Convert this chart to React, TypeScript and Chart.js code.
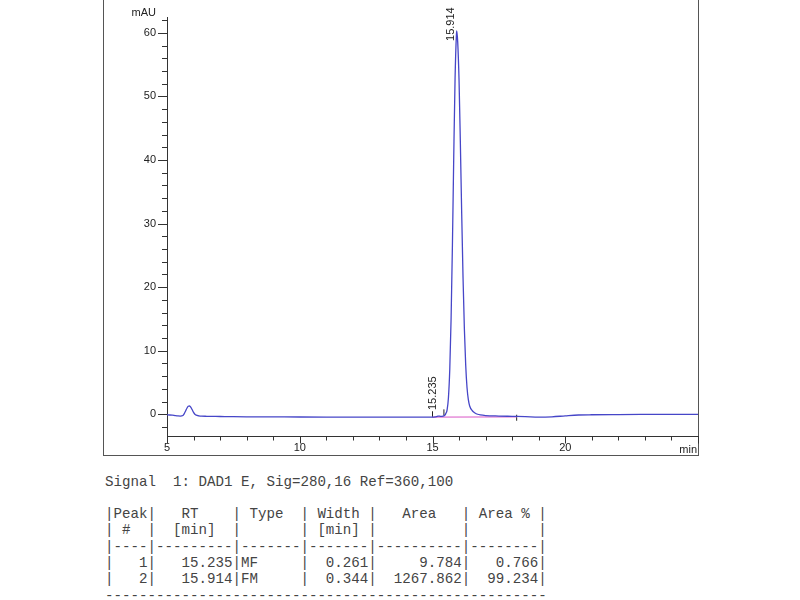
import React, { useEffect, useRef } from "react";
import { Chart, registerables } from "chart.js";

Chart.register(...registerables);

// Chromatogram trace (retention time in min, absorbance in mAU)
const times = [
  5.0, 5.1, 5.2, 5.3, 5.4, 5.5, 5.6, 5.65, 5.7, 5.75, 5.8, 5.85, 5.9, 5.95, 6.0, 6.05, 6.1, 6.2, 6.3, 6.5,
  7.0, 7.5, 8.0, 9.0, 10.0, 11.0, 12.0, 13.0, 14.0, 14.5, 15.0, 15.1, 15.2, 15.235, 15.3, 15.4, 15.45,
  15.5, 15.55, 15.6, 15.65, 15.7, 15.75, 15.8, 15.85, 15.9, 15.914, 15.95, 16.0, 16.05, 16.1, 16.15, 16.2,
  16.25, 16.3, 16.35, 16.4, 16.5, 16.6, 16.7, 16.8, 17.0, 17.5, 18.0, 18.5, 19.0, 19.5, 20.0, 20.5, 21.0,
  22.0, 23.0, 24.0, 25.0,
];
const signal = [
  -0.1, -0.12, -0.15, -0.2, -0.25, -0.28, -0.2, 0.1, 0.5, 0.95, 1.25, 1.3, 1.1, 0.7, 0.3, 0.0, -0.15, -0.25, -0.3, -0.32,
  -0.35, -0.38, -0.4, -0.42, -0.43, -0.44, -0.45, -0.45, -0.46, -0.46, -0.46, -0.42, -0.3, -0.28, -0.33, -0.3, -0.2,
  0.1, 0.7, 2.6, 7.0, 15.0, 26.5, 40.5, 52.8, 59.6, 60.3, 58.5, 52.5, 42.5, 31.5, 21.5, 13.5,
  7.8, 4.2, 2.3, 1.3, 0.55, 0.2, 0.0, -0.1, -0.2, -0.28, -0.33, -0.38, -0.45, -0.4, -0.25, -0.12, -0.08,
  -0.05, -0.03, -0.02, -0.02,
];

// Integration baseline
const baselineTimes = [15.0, 18.17];
const baselineValues = [-0.46, -0.42];

// Integration event marks
const eventTimes = [15.0, 15.43, 18.17];
const eventValues = [0.0, 0.3, -0.55];

// Peak annotations
const peakTimes = [15.235, 15.914];
const peakHeights = [-0.28, 60.3];
const peakLabels = ["15.235", "15.914"];

// Axis ticks
const yLabelValues = [0, 10, 20, 30, 40, 50, 60];
const yTickValues = [-2, 0, 2, 4, 6, 8, 10, 12, 14, 16, 18, 20, 22, 24, 26, 28, 30, 32, 34, 36, 38, 40, 42, 44, 46, 48, 50, 52, 54, 56, 58, 60, 62];
const xLabelValues = [5, 10, 15, 20];
const xTickValues = [5, 6, 7, 8, 9, 10, 11, 12, 13, 14, 15, 16, 17, 18, 19, 20, 21, 22, 23, 24, 25];
const yUnit = "mAU";
const xUnit = "min";

// Report text below the chromatogram
const reportLines = [
  "Signal  1: DAD1 E, Sig=280,16 Ref=360,100",
  "",
  "|Peak|   RT    | Type  | Width |   Area   | Area % |",
  "| #  |  [min]  |       | [min] |          |        |",
  "|----|---------|-------|-------|----------|--------|",
  "|   1|   15.235|MF     |  0.261|     9.784|   0.766|",
  "|   2|   15.914|FM     |  0.344|  1267.862|  99.234|",
  "----------------------------------------------------",
];

const FONT = '"Liberation Sans", Arial, sans-serif';

const decorPlugin = {
  id: "decor",
  afterDraw(chart: any) {
    const ctx = chart.ctx;
    const xs = chart.scales.x;
    const ys = chart.scales.y;
    ctx.save();
    ctx.strokeStyle = "#333";
    ctx.lineWidth = 1;
    ctx.beginPath();
    yTickValues.forEach((v) => {
      const py = Math.round(ys.getPixelForValue(v)) + 0.5;
      const len = v % 10 === 0 ? 9 : 5;
      ctx.moveTo(ys.right - len, py);
      ctx.lineTo(ys.right, py);
    });
    xTickValues.forEach((v) => {
      const px = Math.round(xs.getPixelForValue(v)) + 0.5;
      const len = v % 5 === 0 ? 7 : 4;
      ctx.moveTo(px, xs.top);
      ctx.lineTo(px, xs.top + len);
    });
    ctx.stroke();

    ctx.fillStyle = "#222";
    ctx.font = "11px " + FONT;
    ctx.textAlign = "right";
    ctx.textBaseline = "middle";
    ctx.fillText(yUnit, ys.right - 11, 13);
    ctx.fillText(xUnit, xs.right - 1, 450);

    const gaps = [-6, 10];
    peakTimes.forEach((t, i) => {
      const px = xs.getPixelForValue(t);
      const py = ys.getPixelForValue(peakHeights[i]) + gaps[i];
      ctx.save();
      ctx.translate(px, py);
      ctx.rotate(-Math.PI / 2);
      ctx.textAlign = "left";
      ctx.textBaseline = "bottom";
      ctx.fillText(peakLabels[i], 0, 0);
      ctx.restore();
    });
    ctx.restore();
  },
};

export default function App() {
  const ref = useRef<HTMLCanvasElement | null>(null);

  useEffect(() => {
    if (!ref.current) return;
    const chart = new Chart(ref.current, {
      type: "line",
      data: {
        datasets: [
          {
            data: times.map((t, i) => ({ x: t, y: signal[i] })),
            borderColor: "rgb(70,70,200)",
            borderWidth: 1.3,
            pointRadius: 0,
            cubicInterpolationMode: "monotone",
            fill: false,
          },
          {
            data: baselineTimes.map((t, i) => ({ x: t, y: baselineValues[i] })),
            borderColor: "rgb(225,120,210)",
            borderWidth: 1.3,
            pointRadius: 0,
            fill: false,
          },
          {
            data: eventTimes.map((t, i) => ({ x: t, y: eventValues[i] })),
            showLine: false,
            pointStyle: "line",
            rotation: 90,
            pointRadius: 3,
            borderColor: "#222",
            borderWidth: 1,
          },
        ],
      } as any,
      options: {
        animation: false,
        responsive: false,
        devicePixelRatio: 1,
        layout: { padding: { left: 0, right: 102, top: 14, bottom: 0 } },
        plugins: { legend: { display: false }, tooltip: { enabled: false } },
        scales: {
          x: {
            type: "linear",
            min: 5,
            max: 25,
            afterFit: (s: any) => {
              s.height = 23.5;
            },
            afterBuildTicks: (s: any) => {
              s.ticks = xLabelValues.map((v) => ({ value: v }));
            },
            grid: { display: false, drawTicks: false },
            border: { display: true, color: "#333", width: 1 },
            ticks: {
              autoSkip: false,
              maxRotation: 0,
              padding: 5,
              color: "#222",
              font: { family: FONT, size: 11 },
            },
          },
          y: {
            type: "linear",
            min: -3.5,
            max: 62.4,
            afterFit: (s: any) => {
              s.width = 167;
            },
            afterBuildTicks: (s: any) => {
              s.ticks = yLabelValues.map((v) => ({ value: v }));
            },
            grid: { display: false, drawTicks: false },
            border: { display: true, color: "#333", width: 1 },
            ticks: {
              autoSkip: false,
              padding: 11,
              color: "#222",
              font: { family: FONT, size: 11 },
            },
          },
        },
      } as any,
      plugins: [decorPlugin],
    });
    return () => chart.destroy();
  }, []);

  return (
    <div style={{ position: "absolute", left: 0, top: 0, width: 800, height: 600, background: "#fff", overflow: "hidden" }}>
      <div
        style={{
          position: "absolute",
          left: 103,
          top: -10,
          width: 596,
          height: 466,
          boxSizing: "border-box",
          border: "1px solid #555",
          borderTop: "none",
        }}
      />
      <canvas ref={ref} width={800} height={460} style={{ position: "absolute", left: 0, top: 0, width: 800, height: 460 }} />
      <pre
        style={{
          position: "absolute",
          left: 105,
          top: 473.5,
          margin: 0,
          fontFamily: '"Liberation Mono", "Courier New", monospace',
          fontSize: "14.17px",
          lineHeight: "16.3px",
          color: "#444",
        }}
      >
        {reportLines.join("\n")}
      </pre>
    </div>
  );
}
